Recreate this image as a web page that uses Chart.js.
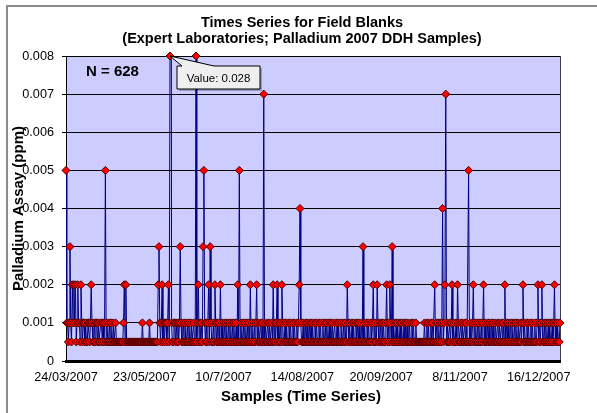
<!DOCTYPE html>
<html>
<head>
<meta charset="utf-8">
<script src="https://cdn.jsdelivr.net/npm/chart.js@4/dist/chart.umd.min.js"></script>
<style>
  html, body { margin: 0; padding: 0; background: #ffffff; }
  #wrap { width: 597px; height: 413px; }
</style>
</head>
<body>
<div id="wrap"><canvas id="blanks" width="597" height="413"></canvas></div>
<script>
// ── Data ──────────────────────────────────────────────────────────────────

const titleLines = ['Times Series for Field Blanks', '(Expert Laboratories; Palladium 2007 DDH Samples)'];
const xTitle = 'Samples (Time Series)';
const yTitle = 'Palladium Assay (ppm)';

// date labels shown every 100 samples
const tickLabels = ['24/03/2007', '23/05/2007', '10/7/2007', '14/08/2007', '20/09/2007', '8/11/2007', '16/12/2007'];
const tickEvery = 100;

const yTicks = [0, 0.001, 0.002, 0.003, 0.004, 0.005, 0.006, 0.007, 0.008];

// assay per field blank, in sample order (628 samples)
const palladium = [
  0.005, 0.001, 0.001, 0.0005, 0.001, 0.003, 0.001, 0.0005, 0.002, 0.001, 0.002, 0.001, 0.002, 0.0005, 0.001, 0.002, 0.001, 0.001, 0.0005, 0.002,
  0.001, 0.0005, 0.001, 0.001, 0.0005, 0.001, 0.0005, 0.0005, 0.001, 0.001, 0.0005, 0.001, 0.002, 0.001, 0.0005, 0.0005, 0.001, 0.0005, 0.001, 0.001,
  0.0005, 0.001, 0.0005, 0.0005, 0.001, 0.001, 0.0005, 0.001, 0.0005, 0.001, 0.005, 0.0005, 0.001, 0.0005, 0.0005, 0.001, 0.0005, 0.001, 0.0005, 0.0005,
  0.001, 0.0005, 0.0005, 0.001, 0.0005, 0.0005, 0.0005, 0.0005, 0.0005, 0.0005, 0.0005, 0.0005, 0.0005, 0.001, 0.002, 0.0005, 0.002, 0.0005, 0.0005, 0.0005,
  0.0005, 0.0005, 0.0005, 0.0005, 0.0005, 0.0005, 0.0005, 0.0005, 0.0005, 0.0005, 0.0005, 0.0005, 0.0005, 0.0005, 0.0005, 0.0005, 0.0005, 0.001, 0.0005, 0.0005,
  0.0005, 0.0005, 0.0005, 0.0005, 0.0005, 0.0005, 0.001, 0.0005, 0.0005, 0.0005, 0.0005, 0.0005, 0.0005, 0.0005, 0.0005, 0.0005, 0.0005, 0.002, 0.003, 0.001,
  0.0005, 0.001, 0.002, 0.0005, 0.001, 0.0005, 0.001, 0.001, 0.0005, 0.001, 0.002, 0.0005, 0.008, 0.028, 0.001, 0.0005, 0.0005, 0.001, 0.001, 0.0005,
  0.001, 0.0005, 0.001, 0.0005, 0.001, 0.003, 0.001, 0.0005, 0.0005, 0.001, 0.0005, 0.001, 0.0005, 0.0005, 0.001, 0.0005, 0.001, 0.0005, 0.0005, 0.001,
  0.0005, 0.0005, 0.001, 0.0005, 0.0005, 0.008, 0.0005, 0.001, 0.002, 0.0005, 0.001, 0.0005, 0.001, 0.0005, 0.003, 0.005, 0.001, 0.0005, 0.001, 0.0005,
  0.001, 0.002, 0.0005, 0.003, 0.001, 0.0005, 0.0005, 0.001, 0.0005, 0.002, 0.001, 0.0005, 0.001, 0.0005, 0.001, 0.0005, 0.002, 0.0005, 0.001, 0.0005,
  0.0005, 0.001, 0.0005, 0.001, 0.0005, 0.0005, 0.001, 0.0005, 0.001, 0.0005, 0.0005, 0.001, 0.0005, 0.001, 0.0005, 0.0005, 0.001, 0.0005, 0.002, 0.0005,
  0.005, 0.0005, 0.001, 0.0005, 0.0005, 0.001, 0.0005, 0.001, 0.0005, 0.0005, 0.001, 0.0005, 0.001, 0.0005, 0.002, 0.0005, 0.001, 0.0005, 0.0005, 0.001,
  0.0005, 0.001, 0.002, 0.0005, 0.001, 0.0005, 0.0005, 0.001, 0.0005, 0.001, 0.0005, 0.007, 0.0005, 0.001, 0.0005, 0.0005, 0.001, 0.0005, 0.001, 0.0005,
  0.0005, 0.001, 0.0005, 0.002, 0.0005, 0.001, 0.0005, 0.001, 0.002, 0.0005, 0.001, 0.0005, 0.001, 0.0005, 0.002, 0.001, 0.0005, 0.0005, 0.001, 0.0005,
  0.001, 0.0005, 0.0005, 0.001, 0.0005, 0.001, 0.0005, 0.0005, 0.001, 0.0005, 0.001, 0.0005, 0.0005, 0.001, 0.0005, 0.001, 0.002, 0.004, 0.001, 0.0005,
  0.0005, 0.001, 0.0005, 0.0005, 0.001, 0.0005, 0.001, 0.0005, 0.0005, 0.001, 0.0005, 0.001, 0.0005, 0.001, 0.0005, 0.0005, 0.001, 0.0005, 0.001, 0.0005,
  0.0005, 0.001, 0.0005, 0.001, 0.0005, 0.0005, 0.001, 0.0005, 0.0005, 0.001, 0.0005, 0.001, 0.0005, 0.0005, 0.001, 0.0005, 0.001, 0.0005, 0.001, 0.0005,
  0.0005, 0.001, 0.0005, 0.0005, 0.001, 0.0005, 0.001, 0.0005, 0.0005, 0.001, 0.0005, 0.0005, 0.001, 0.0005, 0.001, 0.0005, 0.0005, 0.002, 0.001, 0.0005,
  0.001, 0.0005, 0.0005, 0.001, 0.0005, 0.001, 0.0005, 0.0005, 0.001, 0.0005, 0.001, 0.0005, 0.001, 0.0005, 0.0005, 0.001, 0.0005, 0.003, 0.0005, 0.001,
  0.0005, 0.0005, 0.001, 0.0005, 0.001, 0.0005, 0.0005, 0.001, 0.0005, 0.001, 0.002, 0.0005, 0.001, 0.0005, 0.0005, 0.002, 0.001, 0.0005, 0.0005, 0.001,
  0.0005, 0.001, 0.0005, 0.001, 0.0005, 0.0005, 0.001, 0.002, 0.0005, 0.001, 0.0005, 0.002, 0.001, 0.0005, 0.003, 0.0005, 0.001, 0.0005, 0.0005, 0.001,
  0.0005, 0.001, 0.0005, 0.0005, 0.001, 0.0005, 0.001, 0.0005, 0.0005, 0.001, 0.0005, 0.001, 0.0005, 0.001, 0.0005, 0.0005, 0.001, 0.0005, 0.0005, 0.001,
  0.0005, 0.001, 0.0005, 0.0005, 0.001, 0.0005, 0.0005, 0.0005, 0.0005, 0.0005, 0.0005, 0.0005, 0.0005, 0.0005, 0.0005, 0.001, 0.0005, 0.0005, 0.001, 0.0005,
  0.001, 0.0005, 0.0005, 0.001, 0.0005, 0.001, 0.0005, 0.0005, 0.002, 0.0005, 0.001, 0.0005, 0.001, 0.0005, 0.0005, 0.001, 0.0005, 0.001, 0.004, 0.0005,
  0.001, 0.002, 0.007, 0.0005, 0.001, 0.0005, 0.0005, 0.001, 0.0005, 0.001, 0.002, 0.0005, 0.001, 0.0005, 0.0005, 0.001, 0.0005, 0.002, 0.001, 0.0005,
  0.0005, 0.001, 0.0005, 0.001, 0.0005, 0.0005, 0.001, 0.0005, 0.001, 0.0005, 0.0005, 0.005, 0.0005, 0.001, 0.0005, 0.0005, 0.001, 0.002, 0.0005, 0.001,
  0.0005, 0.0005, 0.001, 0.0005, 0.001, 0.0005, 0.0005, 0.001, 0.0005, 0.001, 0.002, 0.0005, 0.001, 0.0005, 0.0005, 0.001, 0.0005, 0.001, 0.0005, 0.0005,
  0.001, 0.0005, 0.001, 0.0005, 0.0005, 0.001, 0.0005, 0.0005, 0.001, 0.0005, 0.001, 0.0005, 0.0005, 0.001, 0.0005, 0.001, 0.0005, 0.002, 0.0005, 0.001,
  0.0005, 0.001, 0.0005, 0.0005, 0.001, 0.0005, 0.001, 0.0005, 0.0005, 0.001, 0.0005, 0.001, 0.0005, 0.0005, 0.001, 0.0005, 0.0005, 0.001, 0.0005, 0.001,
  0.002, 0.0005, 0.001, 0.0005, 0.0005, 0.001, 0.0005, 0.001, 0.0005, 0.0005, 0.001, 0.0005, 0.001, 0.0005, 0.0005, 0.001, 0.0005, 0.0005, 0.001, 0.002,
  0.0005, 0.001, 0.0005, 0.001, 0.002, 0.0005, 0.0005, 0.001, 0.0005, 0.001, 0.0005, 0.0005, 0.001, 0.0005, 0.001, 0.0005, 0.0005, 0.001, 0.0005, 0.001,
  0.002, 0.0005, 0.001, 0.0005, 0.001, 0.0005, 0.0005, 0.001
];

const sampleNo = palladium.map((_, i) => i);

// off-scale blank flagged with a callout
const flaggedSample = 133;
const flaggedShownAt = 132;

// ── Styles ─────────────────────────────────────────────────────────────────

const FONT = '"Liberation Sans", Arial, sans-serif';
const PLOT_BG = '#ccccff';

// plot background, outer frame, titles and the callout
const frameAndNotes = {
  id: 'frameAndNotes',
  beforeDraw(chart) {
    const { ctx, chartArea: a } = chart;
    ctx.save();
    ctx.fillStyle = '#ffffff';
    ctx.fillRect(0, 0, chart.width, chart.height);
    ctx.strokeStyle = '#8c8c8c';
    ctx.lineWidth = 2;
    ctx.strokeRect(7, 6, chart.width + 20, chart.height + 20);
    ctx.fillStyle = PLOT_BG;
    ctx.fillRect(a.left, a.top, a.right - a.left, a.bottom - a.top);
    ctx.strokeStyle = '#404040';
    ctx.lineWidth = 1;
    ctx.beginPath();
    ctx.moveTo(a.right + 0.5, a.top);
    ctx.lineTo(a.right + 0.5, a.bottom);
    ctx.stroke();
    ctx.restore();
  },
  afterDraw(chart) {
    const { ctx } = chart;
    const x = chart.scales.x, y = chart.scales.y;
    ctx.save();
    ctx.fillStyle = '#000000';
    ctx.textAlign = 'center';
    ctx.textBaseline = 'middle';
    ctx.font = 'bold 14.5px ' + FONT;
    ctx.fillText(titleLines[0], 302, 23);
    ctx.fillText(titleLines[1], 302, 39);
    ctx.font = 'bold 15px ' + FONT;
    ctx.fillText(xTitle, 301, 397);

    ctx.textAlign = 'left';
    ctx.fillText('N = ' + palladium.length, 86, 72);

    // callout pointing at the off-scale value
    const px = x.getPixelForValue(flaggedShownAt);
    const py = y.getPixelForValue(palladium[flaggedShownAt]);
    const bx = px + 7, by = py + 10, bw = 83, bh = 23;
    ctx.fillStyle = 'rgba(0,0,0,0.25)';
    ctx.fillRect(bx + 2, by + 2, bw, bh);
    ctx.fillStyle = '#efefef';
    ctx.strokeStyle = '#000000';
    ctx.lineWidth = 1;
    ctx.beginPath();
    ctx.moveTo(bx, by);
    ctx.lineTo(px + 12, by);
    ctx.lineTo(px, py);
    ctx.lineTo(px + 44, by);
    ctx.lineTo(bx + bw, by);
    ctx.lineTo(bx + bw, by + bh);
    ctx.lineTo(bx, by + bh);
    ctx.closePath();
    ctx.fill();
    ctx.stroke();
    ctx.fillStyle = '#000000';
    ctx.font = '11.5px ' + FONT;
    ctx.textAlign = 'center';
    ctx.fillText('Value: ' + palladium[flaggedSample], bx + bw / 2, by + bh / 2 + 1);
    ctx.restore();
  }
};

new Chart(document.getElementById('blanks'), {
  type: 'line',
  data: {
    labels: sampleNo,
    datasets: [
      {
        // markers, not clipped so edge points show whole
        data: palladium,
        showLine: false,
        clip: false,
        pointStyle: 'rectRot',
        pointRadius: 4,
        pointBackgroundColor: '#ff0000',
        pointBorderColor: '#500000',
        pointBorderWidth: 1,
        order: 0,
      },
      {
        // connecting line, clipped to the plot
        data: palladium,
        borderColor: '#000080',
        borderWidth: 1,
        tension: 0,
        pointRadius: 0,
        order: 1,
      }
    ]
  },
  options: {
    responsive: false,
    animation: false,
    devicePixelRatio: 1,
    layout: { padding: { left: 7, top: 56, right: 37, bottom: 6 } },
    plugins: {
      legend: { display: false },
      title: { display: false },
      tooltip: { enabled: false },
    },
    scales: {
      x: {
        type: 'linear',
        min: 0,
        max: palladium.length - 1,
        afterFit: s => { s.height = 46; },
        grid: { display: false, drawTicks: false },
        border: { display: true, color: '#000000', width: 3 },
        ticks: {
          stepSize: tickEvery,
          includeBounds: false,
          autoSkip: false,
          maxRotation: 0,
          padding: 9,
          color: '#000000',
          font: { family: FONT, size: 12.7 },
          callback: v => tickLabels[v / tickEvery] || '',
        },
        title: { display: false },
      },
      y: {
        min: 0,
        max: 0.008,
        afterFit: s => { s.width = 59; },
        afterBuildTicks: s => { s.ticks = yTicks.map(v => ({ value: v })); },
        grid: { color: '#000000', lineWidth: 1, tickLength: 4 },
        border: { display: true, color: '#000000', width: 1 },
        ticks: {
          padding: 8,
          color: '#000000',
          font: { family: FONT, size: 12.7 },
          callback: v => String(v),
        },
        title: {
          display: true,
          text: yTitle,
          color: '#000000',
          padding: { top: 3, bottom: 0 },
          font: { family: FONT, size: 15, weight: 'bold' },
        },
      }
    }
  },
  plugins: [frameAndNotes]
});
</script>
</body>
</html>
